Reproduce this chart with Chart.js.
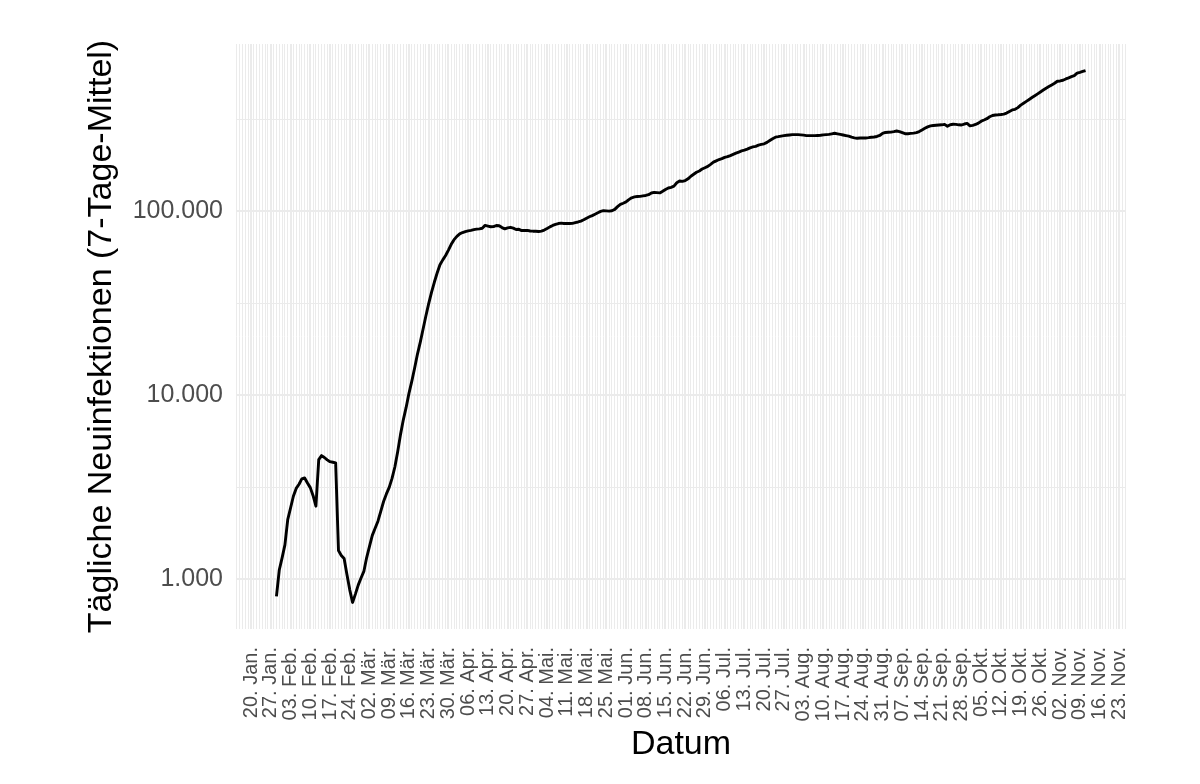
<!DOCTYPE html>
<html lang="de">
<head>
<meta charset="utf-8">
<title>Tägliche Neuinfektionen (7-Tage-Mittel)</title>
<script src="https://cdn.jsdelivr.net/npm/chart.js@4.4.1/dist/chart.umd.min.js"></script>
<style>
  html, body { margin: 0; padding: 0; background: #fff; }
  #wrap { width: 1200px; height: 784px; }
</style>
</head>
<body>
<div id="wrap"><canvas id="chart" width="1200" height="784"></canvas></div>
<script>
'use strict';

// ── data ──────────────────────────────────────────────────────────────────────

const axisStart = '2020-01-20';   // first weekly break
const firstDate = '2020-01-29';   // first value in cases[]

// daily 7-day mean of new infections (one per day)
const cases = [
  809, 1125, 1310, 1541, 2113, 2444, 2831, 3124, 3290, 3520,
  3560, 3342, 3155, 2851, 2500, 4477, 4710, 4600, 4467, 4366,
  4336, 4300, 1436, 1350, 1300, 1063, 878, 750, 832, 931,
  1018, 1105, 1315, 1514, 1736, 1897, 2073, 2344, 2652, 2917,
  3167, 3541, 4083, 4944, 6124, 7372, 8610, 10260, 11930, 14050,
  16740, 19450, 22910, 27040, 31550, 36310, 41230, 46300, 51290, 54600,
  57630, 61660, 66290, 70310, 73280, 75570, 76830, 77800, 78470, 78960,
  79650, 80170, 80450, 81100, 84030, 83300, 82590, 82700, 83950, 83700,
  81770, 80450, 81470, 82030, 81170, 79800, 80000, 78760, 78830, 78960,
  78350, 78160, 78070, 77800, 78250, 79260, 80740, 82480, 83950, 85100,
  85980, 86410, 86000, 85980, 85980, 86200, 87050, 87700, 88690, 90160,
  91950, 93590, 95000, 96700, 98400, 100100, 101000, 100800, 100500, 101000,
  102660, 106300, 109300, 110900, 112700, 116000, 118700, 120000, 120600, 120800,
  121600, 122200, 123400, 126000, 126950, 126600, 126200, 128900, 131800, 134200,
  135300, 137400, 143300, 146400, 145700, 147200, 150500, 155500, 159400, 163400,
  166100, 170100, 172900, 175800, 180400, 185400, 188500, 191600, 193800, 197000,
  198700, 201400, 204400, 207500, 210400, 213300, 215400, 218200, 221800, 224300,
  225900, 229400, 231700, 233200, 237600, 243200, 248800, 253500, 255100, 257000,
  258300, 259600, 260600, 261800, 261800, 261800, 260900, 259900, 258600, 258300,
  258300, 258300, 258900, 259600, 260900, 261800, 262400, 264200, 266100, 264200,
  262400, 260600, 258600, 256700, 253500, 251300, 250000, 250700, 250900, 250900,
  251900, 253200, 254100, 255700, 258900, 265800, 268800, 269400, 270100, 271800,
  273900, 271800, 268200, 264800, 264700, 265800, 266800, 268200, 271800, 277300,
  283200, 288300, 291900, 293400, 294400, 295200, 295900, 297400, 290500, 296300,
  297800, 297400, 295900, 295200, 298900, 301200, 292300, 293800, 297100, 302300,
  309600, 314300, 319500, 327200, 332600, 334600, 335400, 336700, 338400, 342600,
  349900, 356500, 359200, 366900, 378600, 387700, 397000, 406500, 416300, 425800,
  436000, 446500, 457200, 467700, 477700, 487400, 497800, 510400, 512300, 516800,
  525300, 532600, 540600, 547400, 564800, 570400, 576800, 583300
];

// weekly breaks, one label per week starting at axisStart
const weekLabels = [
  '20. Jan.', '27. Jan.', '03. Feb.', '10. Feb.', '17. Feb.', '24. Feb.',
  '02. Mär.', '09. Mär.', '16. Mär.', '23. Mär.', '30. Mär.',
  '06. Apr.', '13. Apr.', '20. Apr.', '27. Apr.',
  '04. Mai.', '11. Mai.', '18. Mai.', '25. Mai.',
  '01. Jun.', '08. Jun.', '15. Jun.', '22. Jun.', '29. Jun.',
  '06. Jul.', '13. Jul.', '20. Jul.', '27. Jul.',
  '03. Aug.', '10. Aug.', '17. Aug.', '24. Aug.', '31. Aug.',
  '07. Sep.', '14. Sep.', '21. Sep.', '28. Sep.',
  '05. Okt.', '12. Okt.', '19. Okt.', '26. Okt.',
  '02. Nov.', '09. Nov.', '16. Nov.', '23. Nov.'
];

const yBreaks = [1000, 10000, 100000];
const yLabels = ['1.000', '10.000', '100.000'];
const yMinorBreaks = [3162.28, 31622.8, 316227.8];

// ── helpers ───────────────────────────────────────────────────────────────────

const FONT = "'Liberation Sans', Arial, Helvetica, sans-serif";
const GRID = '#ebebeb';
const DAY = 86400000;

const offset = Math.round((Date.parse(firstDate) - Date.parse(axisStart)) / DAY);
const points = cases.map((v, i) => ({ x: offset + i, y: v }));

// ggplot-like 5% expansion of the data range
const xFirst = offset, xLast = offset + cases.length - 1;
const xPad = (xLast - xFirst) * 0.05;
const xMin = xFirst - xPad, xMax = xLast + xPad;

const lMin = Math.log10(Math.min(...cases)), lMax = Math.log10(Math.max(...cases));
const lPad = (lMax - lMin) * 0.05;
const yMin = Math.pow(10, lMin - lPad), yMax = Math.pow(10, lMax + lPad);

// one grid line per day (minor), weekly ones are the major breaks
const dayTicks = [];
for (let d = Math.ceil(xMin); d <= Math.floor(xMax); d++) dayTicks.push(d);

const yGrid = [...yBreaks, ...yMinorBreaks].sort((a, b) => a - b);

// ── chart ─────────────────────────────────────────────────────────────────────

new Chart(document.getElementById('chart'), {
  type: 'line',
  data: {
    datasets: [{
      data: points,
      borderColor: '#000',
      borderWidth: 2.9,
      borderJoinStyle: 'round',
      borderCapStyle: 'butt',
      pointRadius: 0,
      tension: 0,
      fill: false,
    }]
  },
  options: {
    responsive: false,
    animation: false,
    devicePixelRatio: 1,
    layout: { padding: { top: 44, right: 74, bottom: 0, left: 0 } },
    plugins: {
      legend: { display: false },
      tooltip: { enabled: false },
    },
    scales: {
      x: {
        type: 'linear',
        min: xMin,
        max: xMax,
        afterBuildTicks: s => { s.ticks = dayTicks.map(v => ({ value: v })); },
        afterFit: s => { s.height = 155; },
        grid: {
          color: GRID,
          lineWidth: c => (c.tick && c.tick.value % 7 === 0) ? 2 : 1,
          drawTicks: false,
        },
        border: { display: false },
        ticks: {
          autoSkip: false,
          minRotation: 90,
          maxRotation: 90,
          padding: 18,
          color: '#4d4d4d',
          font: { family: FONT, size: 20 },
          callback: v => (v % 7 === 0 && v >= 0) ? (weekLabels[v / 7] || '') : '',
        },
        title: {
          display: true,
          text: 'Datum',
          color: '#000',
          font: { family: FONT, size: 34 },
          padding: { top: 0, bottom: 19 },
        },
      },
      y: {
        type: 'logarithmic',
        min: yMin,
        max: yMax,
        afterBuildTicks: s => { s.ticks = yGrid.map(v => ({ value: v })); },
        afterFit: s => { s.width = 236; },
        grid: {
          color: GRID,
          lineWidth: c => (c.tick && yBreaks.includes(c.tick.value)) ? 2 : 1,
          drawTicks: false,
        },
        border: { display: false },
        ticks: {
          autoSkip: false,
          padding: 13,
          color: '#4d4d4d',
          font: { family: FONT, size: 25 },
          callback: v => { const i = yBreaks.indexOf(v); return i >= 0 ? yLabels[i] : ''; },
        },
        title: {
          display: true,
          text: 'Tägliche Neuinfektionen (7-Tage-Mittel)',
          color: '#000',
          font: { family: FONT, size: 34 },
          padding: { top: 81, bottom: 0 },
        },
      },
    },
  },
});
</script>
</body>
</html>
